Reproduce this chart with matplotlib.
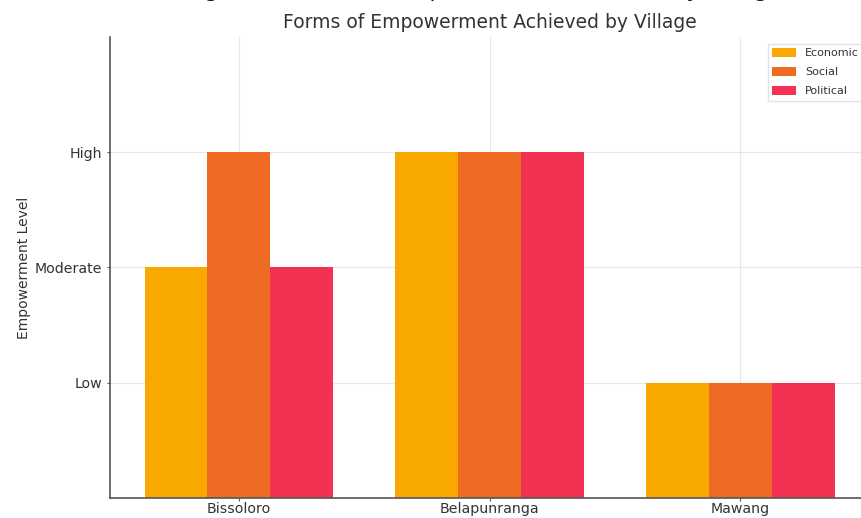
import matplotlib
matplotlib.use("Agg")
import matplotlib.pyplot as plt
import numpy as np

villages = ["Bissoloro", "Belapunranga", "Mawang"]
series_names = ["Economic", "Social", "Political"]
economic = [2, 3, 1]
social = [3, 3, 1]
political = [2, 3, 1]
level_labels = ["Low", "Moderate", "High"]
level_values = [1, 2, 3]
colors = ["#F9A800", "#EF6A22", "#F33253"]

fig = plt.figure(figsize=(8.61, 5.18), dpi=100)
ax = fig.add_axes([0.1278, 0.0386, 0.8816, 0.8900])

x = np.arange(len(villages))
w = 0.25
for i, (vals, name, c) in enumerate(zip([economic, social, political], series_names, colors)):
    ax.bar(x + (i - 1) * w, vals, width=w, color=c, label=name, zorder=2)

ax.set_xlim(-0.5125, 2.5125)
ax.set_ylim(0, 4)
ax.set_xticks(x)
ax.set_xticklabels(villages, fontsize=10.2, color="#333333")
ax.set_yticks(level_values)
ax.set_yticklabels(level_labels, fontsize=10.2, color="#333333")
ax.set_ylabel("Empowerment Level", fontsize=10, color="#333333", labelpad=3)
ax.grid(True, color="#e6e6e6", linewidth=0.8, zorder=0)
ax.set_axisbelow(True)
for s in ["top", "right"]:
    ax.spines[s].set_visible(False)
for s in ["left", "bottom"]:
    ax.spines[s].set_color("#555555")
    ax.spines[s].set_linewidth(1.2)
ax.tick_params(axis="both", length=2, color="#555555")
ax.tick_params(axis="x", pad=1)

ax.set_title("Forms of Empowerment Achieved by Village", fontsize=13.5, color="#333333", pad=6.5)
fig.text(0.563, 1.0 + 3/518, "Figure 4. Forms of Empowerment Achieved by Village",
         fontsize=16, color="#111111", ha="center", va="baseline")

ax.legend(loc="upper left", bbox_to_anchor=(762/861, 1 - 38/518), bbox_transform=fig.transFigure,
          fontsize=8, frameon=True, edgecolor="#dddddd", fancybox=False,
          handlelength=2.2, handleheight=0.8, labelspacing=0.8, labelcolor="#333333")

fig.savefig("out.png", dpi=100)
